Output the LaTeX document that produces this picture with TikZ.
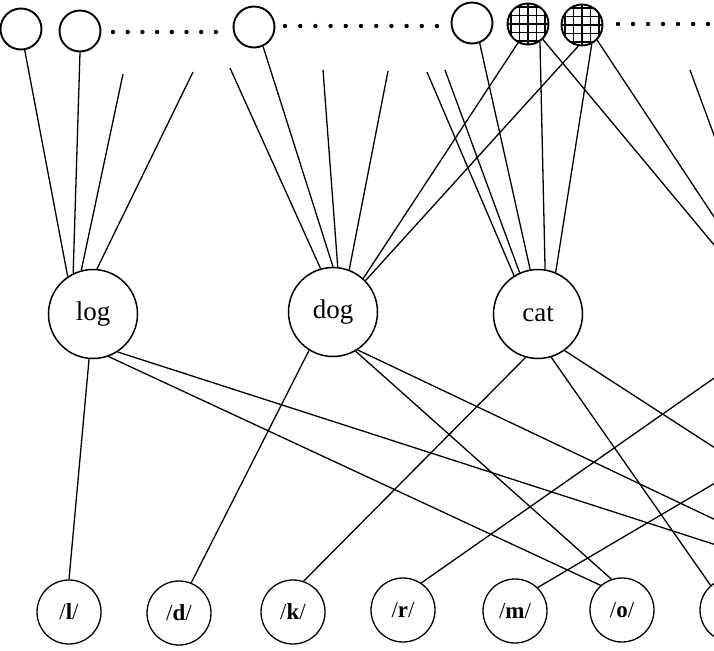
\documentclass[tikz,border=0pt]{standalone}
\usepackage{fontspec}
\setmainfont{Liberation Serif}
\begin{document}
\begin{tikzpicture}[x=1pt,y=-1pt,
  unit/.style={circle,draw,line width=1.9pt,minimum size=41pt,inner sep=0pt},
  hatched/.style={unit,path picture={\draw[line width=1.6pt,step=8.5pt] (path picture bounding box.south west) grid (path picture bounding box.north east);}},
  word/.style={circle,draw,line width=1.5pt,minimum size=89pt,inner sep=0pt,font=\fontsize{27}{29}\selectfont},
  phon/.style={circle,draw,line width=1.3pt,minimum size=64pt,inner sep=0pt,font=\fontsize{23}{25}\selectfont},
  link/.style={line width=1.3pt}]
\useasboundingbox (0,0) rectangle (714,650);
\clip (0,0) rectangle (714,650);
\node[unit] (u1) at (21,29) {};
\node[unit] (u2) at (80,31) {};
\node[unit] (u3) at (254,27) {};
\node[unit] (u4) at (472,23) {};
\node[hatched] (u5) at (528,24) {};
\node[hatched] (u6) at (582,25) {};
\foreach \i in {0,...,7} \fill (113+14.7*\i,32) circle (2.2pt);
\foreach \i in {0,...,10} \fill (285+15.2*\i,26) circle (2.2pt);
\foreach \i in {0,...,6} \fill (618+15*\i,24) circle (2.2pt);
\node[word] (log) at (93,314) {log};
\node[word] (dog) at (333,312) {dog};
\node[word] (cat) at (538,314) {cat};
\node[phon] (pl) at (69,612) {/\textbf{l}/};
\node[phon] (pd) at (179,613) {/\textbf{d}/};
\node[phon] (pk) at (293,612) {/\textbf{k}/};
\node[phon] (pr) at (403,610) {/\textbf{r}/};
\node[phon] (pm) at (515,611) {/\textbf{m}/};
\node[phon] (po) at (622,610) {/\textbf{o}/};
\node[phon] (px) at (732,610) {};
\coordinate (a1) at (123,74);
\coordinate (a2) at (193,72);
\coordinate (b1) at (230,68);
\coordinate (b2) at (323,70);
\coordinate (b3) at (388,71);
\coordinate (c1) at (427,72);
\coordinate (c2) at (445,70);
\coordinate (e1) at (690,70);
\coordinate (e1x) at (771,290);
\coordinate (e5x) at (760,300);
\coordinate (e6x) at (769,300);
\coordinate (logx) at (800,572);
\coordinate (dogx) at (800,560);
\coordinate (catx) at (800,503);
\coordinate (rx) at (800,318);
\coordinate (mx) at (800,433);
\draw[link] (u1.-80) -- (log.124);
\draw[link] (u2.south) -- (log.116);
\draw[link] (a1) -- (log.105);
\draw[link] (a2) -- (log.85);
\draw[link] (b1) -- (dog.106);
\draw[link] (u3.-65) -- (dog.90);
\draw[link] (b2) -- (dog.84);
\draw[link] (b3) -- (dog.69);
\draw[link] (u5.-118) -- (dog.48);
\draw[link] (u6.-100) -- (dog.44);
\draw[link] (c1) -- (cat.122);
\draw[link] (c2) -- (cat.114);
\draw[link] (u4.-69) -- (cat.100);
\draw[link] (u5.-56) -- (cat.81);
\draw[link] (u6.-63) -- (cat.67);
\draw[link] (u5.-46) -- (e5x);
\draw[link] (u6.-45) -- (e6x);
\draw[link] (e1) -- (e1x);
\draw[link] (log.-95) -- (pl.north);
\draw[link] (log.-70) -- (po.131);
\draw[link] (log.-57) -- (logx);
\draw[link] (dog.-122) -- (pd.68);
\draw[link] (dog.-60) -- (po.109);
\draw[link] (dog.-57) -- (dogx);
\draw[link] (cat.-106) -- (pk.71);
\draw[link] (cat.-73) -- (px.131);
\draw[link] (cat.-54) -- (catx);
\draw[link] (rx) -- (pr.56);
\draw[link] (mx) -- (pm.46);
\end{tikzpicture}
\end{document}
